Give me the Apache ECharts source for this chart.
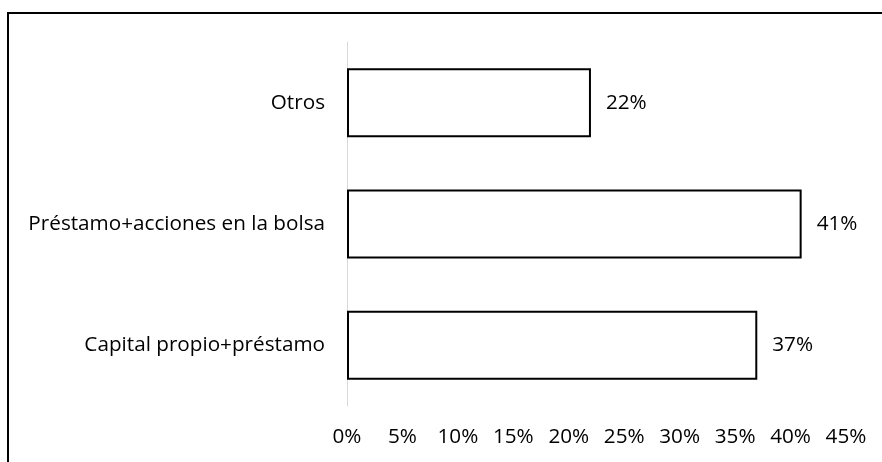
<!DOCTYPE html>
<html>
<head>
<meta charset="utf-8">
<script src="https://cdn.jsdelivr.net/npm/echarts@6/dist/echarts.min.js"></script>
<style>
html, body { margin: 0; padding: 0; background: #fff; }
#chart { width: 882px; height: 462px; }
</style>
</head>
<body>
<div id="chart"></div>
<script>
// categories from bottom to top
var categories = ['Capital propio+préstamo', 'Préstamo+acciones en la bolsa', 'Otros'];
var values = [37, 41, 22];
var tickStep = 5;
var axisMax = 45;

var font = 'Open Sans';
var fs = 20.7;

var chart = echarts.init(document.getElementById('chart'));
chart.setOption({
    animation: false,
    textStyle: { fontFamily: font },
    grid: { left: 347, right: 36, top: 42, bottom: 56, containLabel: false },
    graphic: [{
        type: 'rect',
        shape: { x: 8, y: 13, width: 900, height: 500 },
        style: { fill: 'none', stroke: '#000', lineWidth: 2 },
        silent: true
    }],
    xAxis: {
        type: 'value',
        min: 0,
        max: axisMax,
        interval: tickStep,
        axisLine: { show: false },
        axisTick: { show: false },
        splitLine: { show: false },
        axisLabel: {
            margin: 21,
            color: '#000',
            fontSize: fs,
            fontFamily: font,
            formatter: '{value}%'
        }
    },
    yAxis: {
        type: 'category',
        data: categories,
        axisLine: { show: true, lineStyle: { color: '#d9d9d9', width: 1 } },
        axisTick: { show: false },
        splitLine: { show: false },
        axisLabel: {
            margin: 22,
            color: '#000',
            fontSize: fs,
            fontFamily: font
        }
    },
    series: [{
        type: 'bar',
        data: values,
        barWidth: 69,
        itemStyle: { color: '#fff', borderColor: '#000', borderWidth: 2 },
        label: {
            show: true,
            position: 'right',
            distance: 15,
            color: '#000',
            fontSize: fs,
            fontFamily: font,
            formatter: '{c}%'
        }
    }]
});
</script>
</body>
</html>
